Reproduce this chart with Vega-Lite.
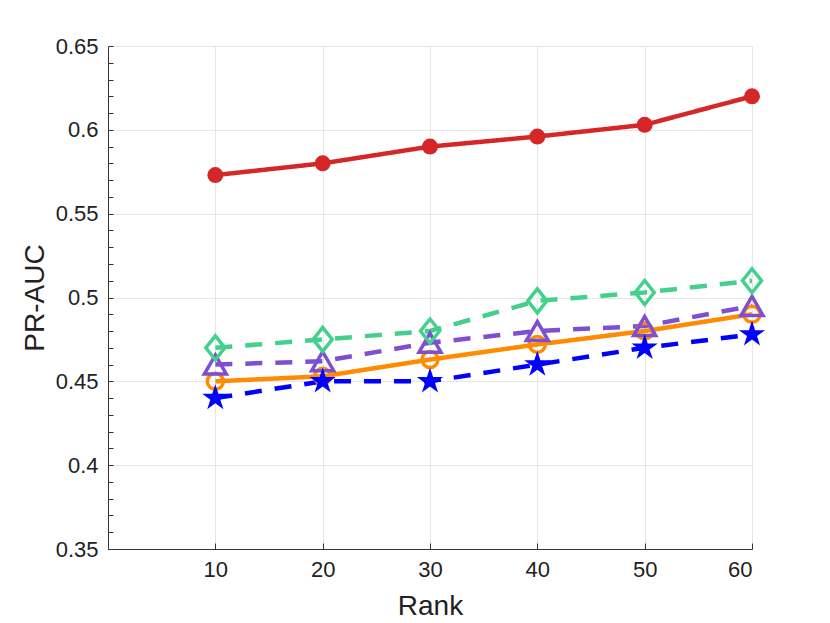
{
  "$schema": "https://vega.github.io/schema/vega-lite/v6.json",
  "width": 644,
  "height": 503,
  "autosize": {"type": "none"},
  "padding": {"left": 108, "top": 46, "right": 78, "bottom": 74},
  "background": "white",
  "data": {
    "values": [
      {"method": "MULTIPAR", "rank": 10, "prauc": 0.573},
      {"method": "MULTIPAR", "rank": 20, "prauc": 0.580},
      {"method": "MULTIPAR", "rank": 30, "prauc": 0.590},
      {"method": "MULTIPAR", "rank": 40, "prauc": 0.596},
      {"method": "MULTIPAR", "rank": 50, "prauc": 0.603},
      {"method": "MULTIPAR", "rank": 60, "prauc": 0.620},
      {"method": "SPARTan", "rank": 10, "prauc": 0.450},
      {"method": "SPARTan", "rank": 20, "prauc": 0.453},
      {"method": "SPARTan", "rank": 30, "prauc": 0.463},
      {"method": "SPARTan", "rank": 40, "prauc": 0.472},
      {"method": "SPARTan", "rank": 50, "prauc": 0.480},
      {"method": "SPARTan", "rank": 60, "prauc": 0.490},
      {"method": "COPA", "rank": 10, "prauc": 0.460},
      {"method": "COPA", "rank": 20, "prauc": 0.462},
      {"method": "COPA", "rank": 30, "prauc": 0.473},
      {"method": "COPA", "rank": 40, "prauc": 0.480},
      {"method": "COPA", "rank": 50, "prauc": 0.483},
      {"method": "COPA", "rank": 60, "prauc": 0.495},
      {"method": "SinglePAR", "rank": 10, "prauc": 0.470},
      {"method": "SinglePAR", "rank": 20, "prauc": 0.475},
      {"method": "SinglePAR", "rank": 30, "prauc": 0.480},
      {"method": "SinglePAR", "rank": 40, "prauc": 0.498},
      {"method": "SinglePAR", "rank": 50, "prauc": 0.503},
      {"method": "SinglePAR", "rank": 60, "prauc": 0.510},
      {"method": "LSTM", "rank": 10, "prauc": 0.440},
      {"method": "LSTM", "rank": 20, "prauc": 0.450},
      {"method": "LSTM", "rank": 30, "prauc": 0.450},
      {"method": "LSTM", "rank": 40, "prauc": 0.460},
      {"method": "LSTM", "rank": 50, "prauc": 0.470},
      {"method": "LSTM", "rank": 60, "prauc": 0.478}
    ]
  },
  "encoding": {
    "x": {
      "field": "rank", "type": "quantitative",
      "scale": {"domain": [0, 60], "nice": false},
      "axis": {
        "title": "Rank",
        "values": [10, 20, 30, 40, 50, 60],
        "tickSize": -6,
        "labelPadding": 16,
        "titlePadding": 12
      }
    },
    "y": {
      "field": "prauc", "type": "quantitative",
      "scale": {"domain": [0.35, 0.65], "nice": false, "zero": false},
      "axis": {
        "title": "PR-AUC",
        "format": "~g",
        "values": [0.35, 0.36, 0.37, 0.38, 0.39, 0.4, 0.41, 0.42, 0.43, 0.44, 0.45, 0.46, 0.47, 0.48, 0.49, 0.5, 0.51, 0.52, 0.53, 0.54, 0.55, 0.56, 0.57, 0.58, 0.59, 0.6, 0.61, 0.62, 0.63, 0.64, 0.65],
        "labelExpr": "round(datum.value * 100) % 5 === 0 ? datum.label : ''",
        "gridOpacity": {"condition": {"test": "round(datum.value * 100) % 5 === 0", "value": 1}, "value": 0},
        "tickSize": -5,
        "labelPadding": 15,
        "titlePadding": 6
      }
    }
  },
  "layer": [
    {
      "mark": {"type": "line", "strokeWidth": 4.5},
      "encoding": {
        "stroke": {
          "field": "method", "type": "nominal",
          "scale": {
            "domain": ["MULTIPAR", "SPARTan", "COPA", "SinglePAR", "LSTM"],
            "range": ["#d62728", "#ff8c00", "#7e4fd0", "#43d08c", "#0000ff"]
          },
          "legend": null
        },
        "strokeDash": {
          "field": "method", "type": "nominal",
          "scale": {
            "domain": ["MULTIPAR", "SPARTan", "COPA", "SinglePAR", "LSTM"],
            "range": [[1, 0], [1, 0], [17, 13], [17, 13], [17, 13]]
          },
          "legend": null
        }
      }
    },
    {
      "transform": [{"filter": "datum.method === 'SPARTan'"}],
      "mark": {"type": "point", "shape": "circle", "filled": false, "color": "#ff8c00", "size": 256, "strokeWidth": 3.5, "opacity": 1}
    },
    {
      "transform": [{"filter": "datum.method === 'COPA'"}],
      "mark": {"type": "point", "shape": "triangle-up", "filled": false, "color": "#7e4fd0", "size": 484, "strokeWidth": 3.5, "opacity": 1}
    },
    {
      "transform": [{"filter": "datum.method === 'SinglePAR'"}],
      "mark": {"type": "point", "shape": "M0,-1.2L0.95,0L0,1.2L-0.95,0Z", "filled": false, "color": "#43d08c", "size": 400, "strokeWidth": 3.5, "opacity": 1}
    },
    {
      "transform": [{"filter": "datum.method === 'MULTIPAR'"}],
      "mark": {"type": "point", "shape": "circle", "filled": true, "color": "#d62728", "size": 256, "opacity": 1}
    },
    {
      "transform": [{"filter": "datum.method === 'LSTM'"}],
      "mark": {"type": "point", "shape": "M0,-1L0.223,-0.307L0.951,-0.309L0.361,0.117L0.588,0.809L0,0.38L-0.588,0.809L-0.361,0.117L-0.951,-0.309L-0.223,-0.307Z", "filled": true, "color": "#0000ff", "size": 760, "opacity": 1}
    },
    {
      "mark": {"type": "point", "filled": false, "opacity": 0, "size": 256, "strokeWidth": 3.5},
      "encoding": {
        "color": {
          "field": "method", "type": "nominal",
          "scale": {
            "domain": ["MULTIPAR", "SPARTan", "COPA", "SinglePAR", "LSTM"],
            "range": ["#d62728", "#ff8c00", "#7e4fd0", "#43d08c", "#0000ff"]
          },
          "legend": {
            "title": null,
            "orient": "none",
            "legendX": 471,
            "legendY": 359,
            "fillColor": "white",
            "strokeColor": "#444",
            "padding": 6,
            "symbolSize": 256,
            "symbolOffset": 16,
            "symbolOpacity": 1,
            "symbolStrokeWidth": 3.5,
            "labelOffset": 14,
            "labelFontSize": 22,
            "rowPadding": 1
          }
        },
        "shape": {
          "field": "method", "type": "nominal",
          "scale": {
            "domain": ["MULTIPAR", "SPARTan", "COPA", "SinglePAR", "LSTM"],
            "range": [
              "M-2.75,0H2.75M0.8,0A0.8,0.8 0 1,1 -0.8,0A0.8,0.8 0 1,1 0.8,0M0.5,0A0.5,0.5 0 1,1 -0.5,0A0.5,0.5 0 1,1 0.5,0M0.2,0A0.2,0.2 0 1,1 -0.2,0A0.2,0.2 0 1,1 0.2,0",
              "M-2.75,0H2.75M0.94,0A0.94,0.94 0 1,1 -0.94,0A0.94,0.94 0 1,1 0.94,0Z",
              "M-2.75,0H-1.45M1.45,0H2.75M0,-1.1L1.25,0.95L-1.25,0.95Z",
              "M-2.75,0H-1.3M1.3,0H2.75M0,-1.25L1.05,0L0,1.25L-1.05,0Z",
              "M-2.75,0H-1.5M1.5,0H2.75M0,-1.4L0.312,-0.43L1.331,-0.433L0.505,0.164L0.823,1.133L0,0.532L-0.823,1.133L-0.505,0.164L-1.331,-0.433L-0.312,-0.43ZM0,-0.91L0.203,-0.28L0.865,-0.281L0.328,0.107L0.535,0.736L0,0.346L-0.535,0.736L-0.328,0.107L-0.865,-0.281L-0.203,-0.28ZM0,-0.42L0.094,-0.129L0.399,-0.13L0.152,0.049L0.247,0.34L0,0.16L-0.247,0.34L-0.152,0.049L-0.399,-0.13L-0.094,-0.129Z"
            ]
          },
          "legend": {
            "title": null,
            "orient": "none",
            "legendX": 471,
            "legendY": 359,
            "fillColor": "white",
            "strokeColor": "#444",
            "padding": 6,
            "symbolSize": 256,
            "symbolOffset": 16,
            "symbolOpacity": 1,
            "symbolStrokeWidth": 3.5,
            "labelOffset": 14,
            "labelFontSize": 22,
            "rowPadding": 1
          }
        }
      }
    }
  ],
  "config": {
    "font": "Liberation Sans",
    "view": {"stroke": null},
    "axis": {
      "domainColor": "#333",
      "domainWidth": 1,
      "tickColor": "#333",
      "tickWidth": 1,
      "gridColor": "#e6e6e6",
      "gridWidth": 1,
      "labelFontSize": 22,
      "labelColor": "#222",
      "titleFontSize": 28,
      "titleFontWeight": "normal",
      "titleColor": "#222"
    },
    "legend": {"labelColor": "#111", "labelFont": "Liberation Sans"}
  }
}
